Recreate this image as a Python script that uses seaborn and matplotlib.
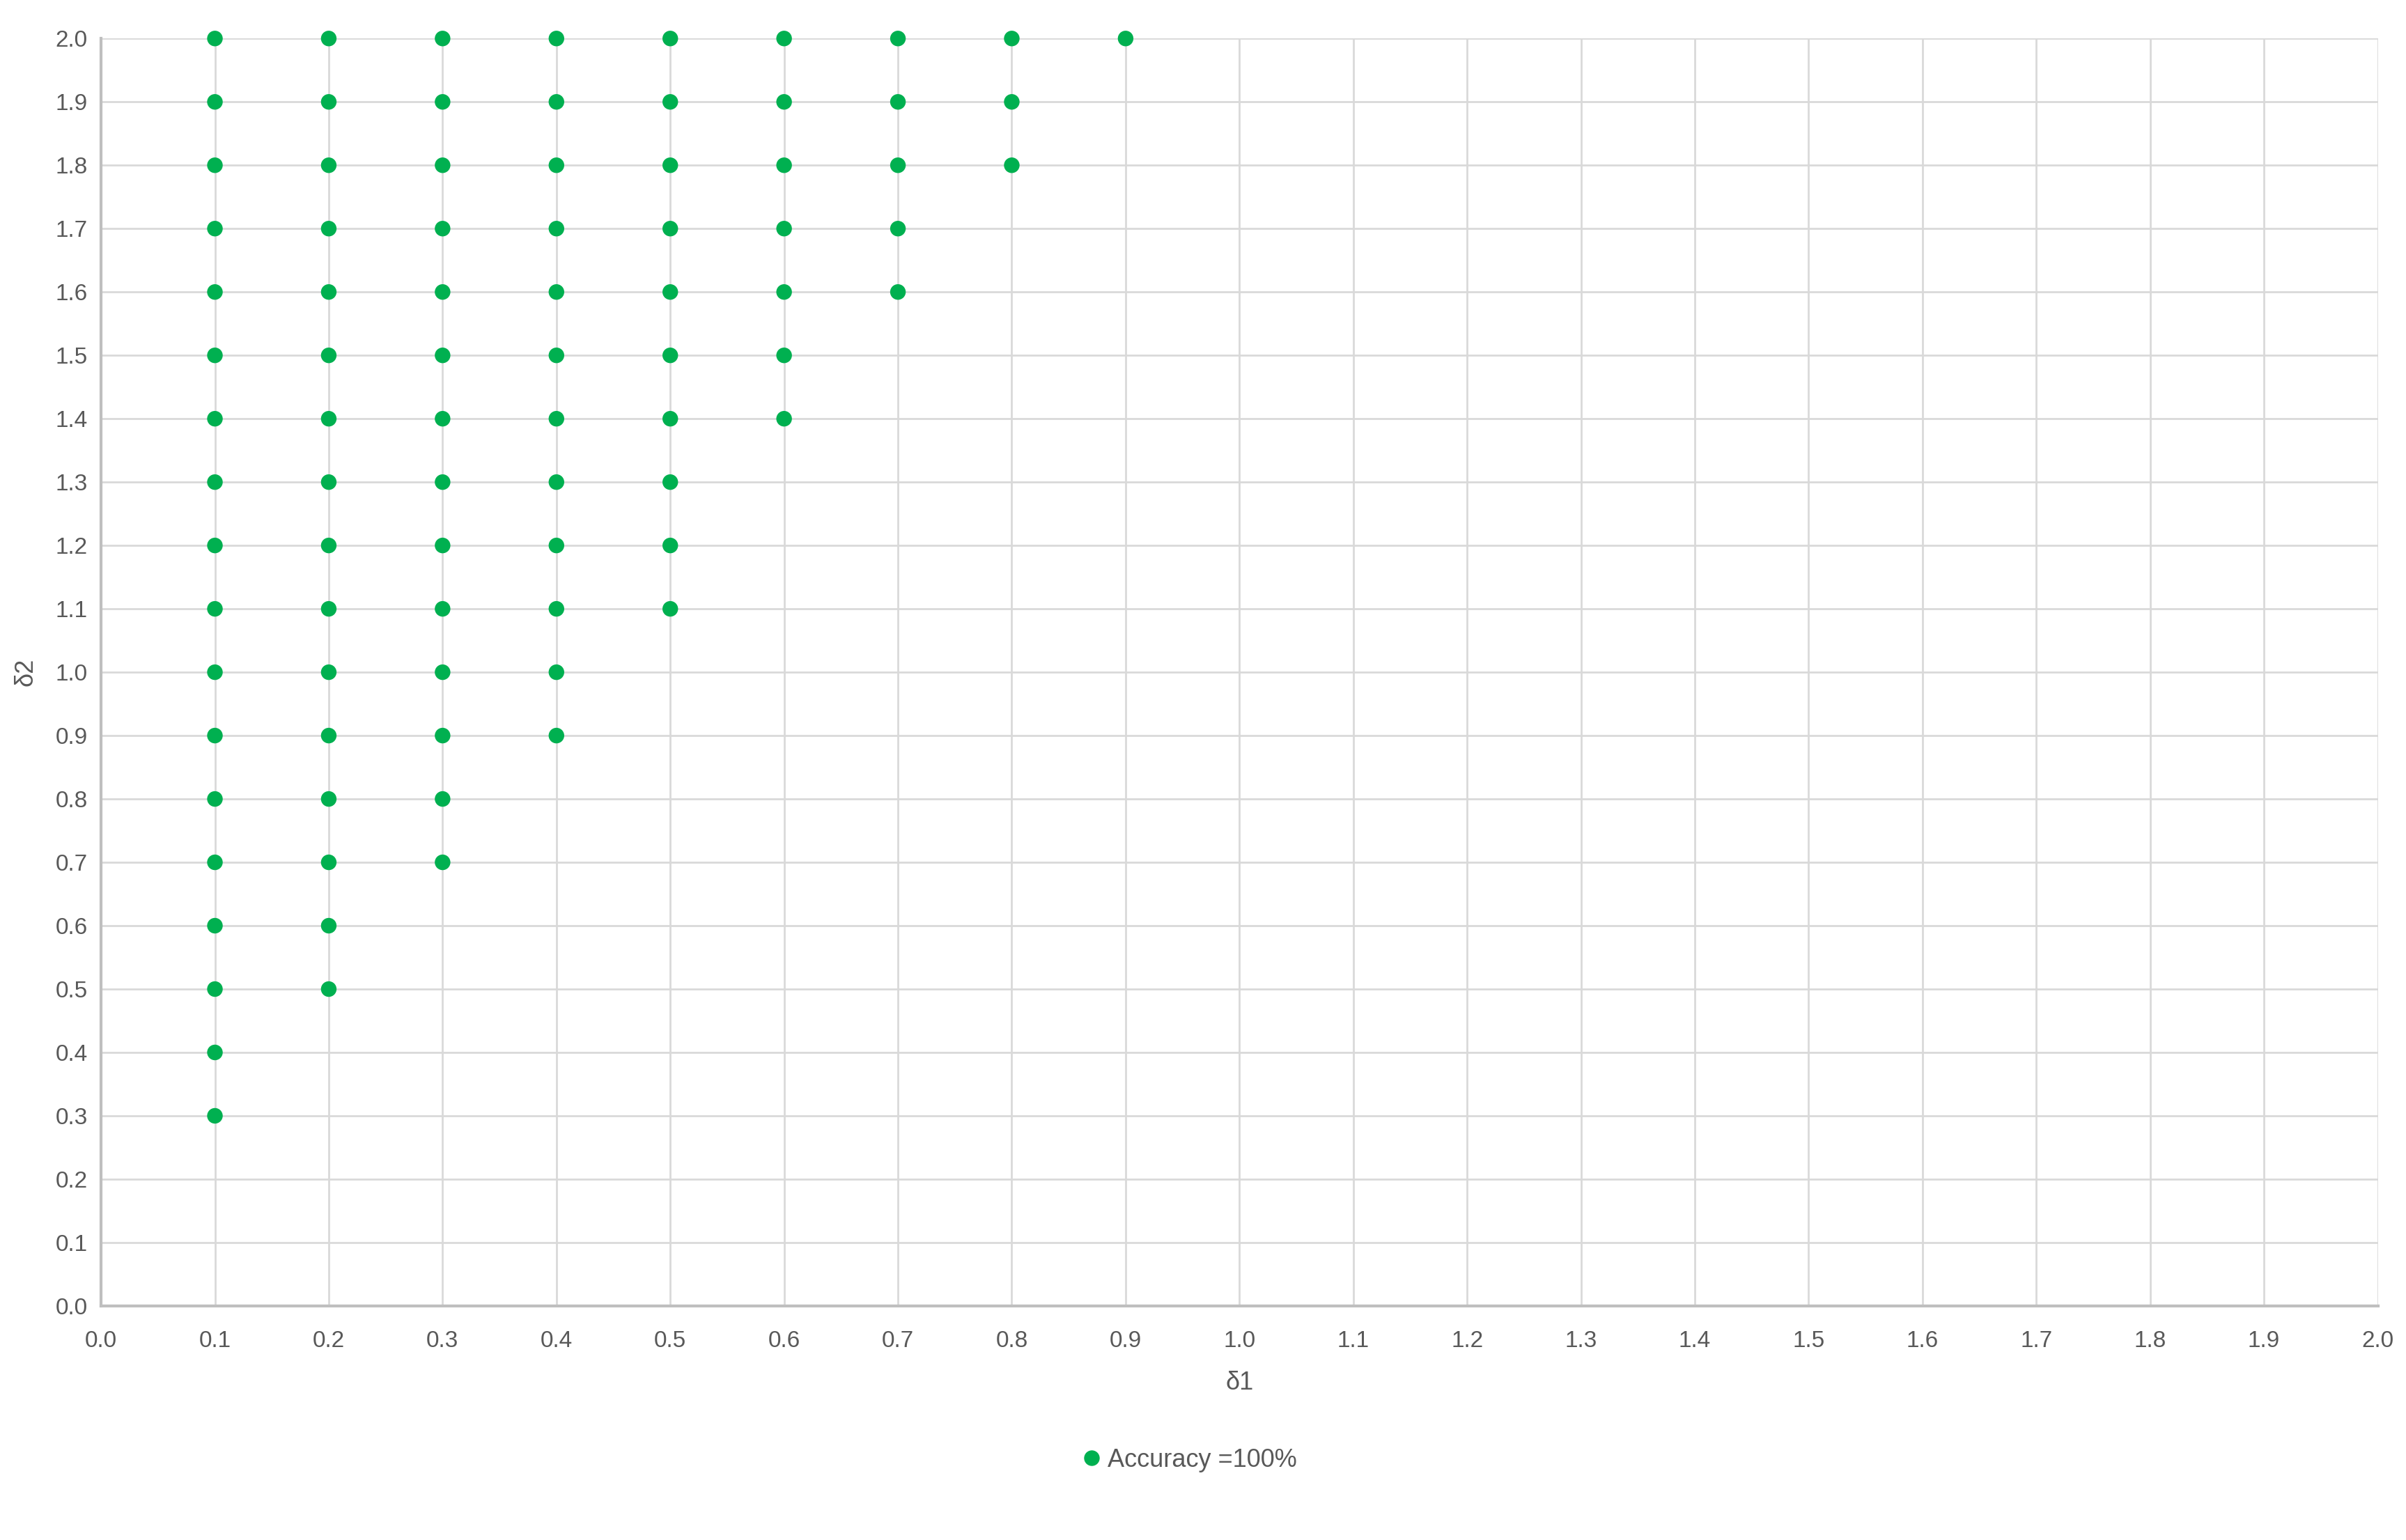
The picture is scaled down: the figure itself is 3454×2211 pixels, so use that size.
import numpy as np
import pandas as pd
import seaborn as sns
import matplotlib
matplotlib.use("Agg")
import matplotlib.pyplot as plt

# pontos com acurácia de 100% (δ1, δ2)
d1_01 = [0.3, 0.4, 0.5, 0.6, 0.7, 0.8, 0.9, 1.0, 1.1, 1.2, 1.3, 1.4, 1.5, 1.6, 1.7, 1.8, 1.9, 2.0]
d1_02 = [0.5, 0.6, 0.7, 0.8, 0.9, 1.0, 1.1, 1.2, 1.3, 1.4, 1.5, 1.6, 1.7, 1.8, 1.9, 2.0]
d1_03 = [0.7, 0.8, 0.9, 1.0, 1.1, 1.2, 1.3, 1.4, 1.5, 1.6, 1.7, 1.8, 1.9, 2.0]
d1_04 = [0.9, 1.0, 1.1, 1.2, 1.3, 1.4, 1.5, 1.6, 1.7, 1.8, 1.9, 2.0]
d1_05 = [1.1, 1.2, 1.3, 1.4, 1.5, 1.6, 1.7, 1.8, 1.9, 2.0]
d1_06 = [1.4, 1.5, 1.6, 1.7, 1.8, 1.9, 2.0]
d1_07 = [1.6, 1.7, 1.8, 1.9, 2.0]
d1_08 = [1.8, 1.9, 2.0]
d1_09 = [2.0]

colunas = {0.1: d1_01, 0.2: d1_02, 0.3: d1_03, 0.4: d1_04, 0.5: d1_05,
           0.6: d1_06, 0.7: d1_07, 0.8: d1_08, 0.9: d1_09}
ticks = [round(0.1 * i, 1) for i in range(21)]
rotulo = "Accuracy =100%"

linhas = [(x, y) for x, ys in colunas.items() for y in ys]
df = pd.DataFrame(linhas, columns=["δ1", "δ2"])
df["serie"] = rotulo

sns.set_style("white")
plt.rcParams["font.family"] = ["Liberation Sans", "DejaVu Sans"]

fig = plt.figure(figsize=(34.55, 22.11), dpi=100)
ax = fig.add_axes([0.042, 0.152, 0.946, 0.823])

cinza = "#595959"
ax.set_xlim(0, 2.0)
ax.set_ylim(0, 2.0)
ax.set_xticks(ticks)
ax.set_yticks(ticks)
ax.set_xticklabels([f"{t:.1f}" for t in ticks])
ax.set_yticklabels([f"{t:.1f}" for t in ticks])
ax.grid(True, color="#D9D9D9", linewidth=2.0, zorder=0)
ax.set_axisbelow(True)
ax.tick_params(length=0, labelsize=24, labelcolor=cinza)
ax.tick_params(axis="x", pad=25)
ax.tick_params(axis="y", pad=14)

sns.scatterplot(data=df, x="δ1", y="δ2", hue="serie", palette=["#00B050"],
                s=260, linewidth=0, ax=ax, zorder=3, clip_on=False)

for lado in ["top", "right"]:
  ax.spines[lado].set_visible(False)
for lado in ["left", "bottom"]:
  ax.spines[lado].set_color("#BFBFBF")
  ax.spines[lado].set_linewidth(3)

ax.set_xlabel("δ1", fontsize=26, color=cinza, labelpad=20)
ax.set_ylabel("δ2", fontsize=26, color=cinza, labelpad=18)

leg = ax.legend(loc="center", bbox_to_anchor=(0.491, 0.052), bbox_transform=fig.transFigure,
                frameon=False, fontsize=26, handletextpad=-0.35, markerscale=1.0)
for t in leg.get_texts():
  t.set_color(cinza)

fig.savefig("out.png", dpi=100, facecolor="white")
